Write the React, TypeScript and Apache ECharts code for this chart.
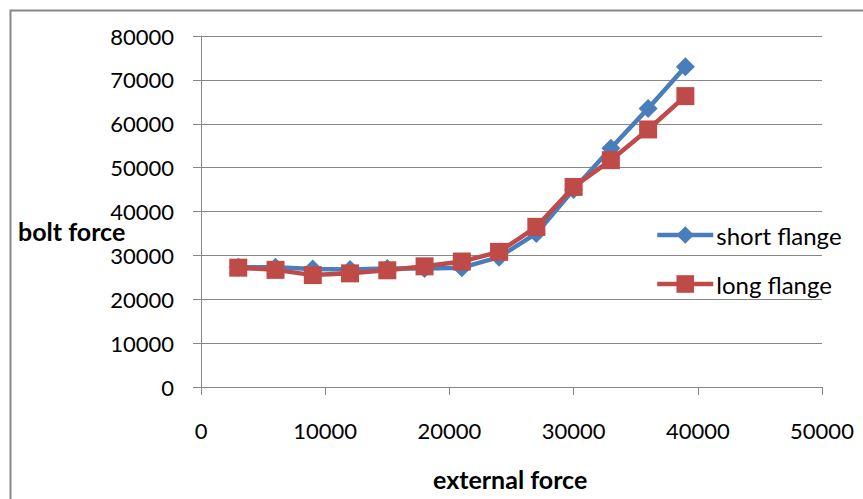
import React, { useEffect, useRef } from "react";
import * as echarts from "echarts";

const externalForce = [3000, 6000, 9000, 12000, 15000, 18000, 21000, 24000, 27000, 30000, 33000, 36000, 39000];
const shortFlange = [27300, 27300, 26900, 26800, 27000, 27000, 27200, 29600, 35000, 45000, 54400, 63500, 73000];
const longFlange = [27200, 26700, 25500, 25900, 26600, 27500, 28600, 30800, 36500, 45600, 51700, 58700, 66300];
const seriesNames = ["short flange", "long flange"];
const xTitle = "external force";
const yTitle = "bolt force";

const FONT = "Lato, 'Open Sans', sans-serif";
const GRAY = "#878787";

export default function App() {
  const ref = useRef<HTMLDivElement>(null);
  useEffect(() => {
    if (!ref.current) return;
    const chart = echarts.init(ref.current, undefined, { renderer: "svg" });
    const toPairs = (ys: number[]) => externalForce.map((x, i) => [x, ys[i]]);
    chart.setOption({
      animation: false,
      backgroundColor: "#ffffff",
      textStyle: { fontFamily: FONT },
      grid: { left: 201, right: 41, top: 36, bottom: 112, containLabel: false },
      xAxis: {
        type: "value",
        min: 0,
        max: 50000,
        interval: 10000,
        axisLine: { show: true, lineStyle: { color: GRAY, width: 1 } },
        axisTick: { show: true, length: 8, lineStyle: { color: GRAY } },
        axisLabel: { color: "#000", fontSize: 22, fontFamily: FONT, margin: 32, formatter: (v: number) => String(v) },
        splitLine: { show: false },
      },
      yAxis: {
        type: "value",
        min: 0,
        max: 80000,
        interval: 10000,
        axisLine: { show: true, lineStyle: { color: GRAY, width: 1 } },
        axisTick: { show: true, length: 8, inside: false, lineStyle: { color: GRAY } },
        axisLabel: { color: "#000", fontSize: 22, fontFamily: FONT, margin: 27, formatter: (v: number) => String(v) },
        splitLine: { show: true, lineStyle: { color: GRAY, width: 1 } },
      },
      legend: {
        orient: "vertical",
        left: 650,
        top: 218,
        itemWidth: 56,
        itemHeight: 22,
        itemGap: 25,
        lineStyle: { width: 4.5 },
        textStyle: { color: "#000", fontSize: 24, fontFamily: FONT, padding: [0, 0, 0, -2] },
        data: seriesNames,
      },
      graphic: [
        {
          type: "rect",
          shape: { x: 10.5, y: 10.5, width: 1000, height: 1000 },
          style: { fill: "none", stroke: GRAY, lineWidth: 2 },
          silent: true,
        },
        {
          type: "text",
          left: 18,
          top: 218,
          style: { text: yTitle, fontSize: 25, fontWeight: "bold", fontFamily: FONT, fill: "#000" },
        },
        {
          type: "text",
          left: 433,
          top: 466,
          style: { text: xTitle, fontSize: 25, fontWeight: "bold", fontFamily: FONT, fill: "#000" },
        },
      ],
      series: [
        {
          name: seriesNames[0],
          type: "line",
          data: toPairs(shortFlange),
          symbol: "diamond",
          symbolSize: 19,
          color: "#4A7EBB",
          lineStyle: { width: 4.5, color: "#4A7EBB" },
          itemStyle: { color: "#4A7EBB" },
          z: 2,
        },
        {
          name: seriesNames[1],
          type: "line",
          data: toPairs(longFlange),
          symbol: "rect",
          symbolSize: 18,
          color: "#BE4B48",
          lineStyle: { width: 4.5, color: "#BE4B48" },
          itemStyle: { color: "#BE4B48" },
          z: 3,
        },
      ],
    });
    return () => chart.dispose();
  }, []);
  return (
    <div
      ref={ref}
      style={{ position: "fixed", left: 0, top: 0, width: 863, height: 499 }}
    />
  );
}
